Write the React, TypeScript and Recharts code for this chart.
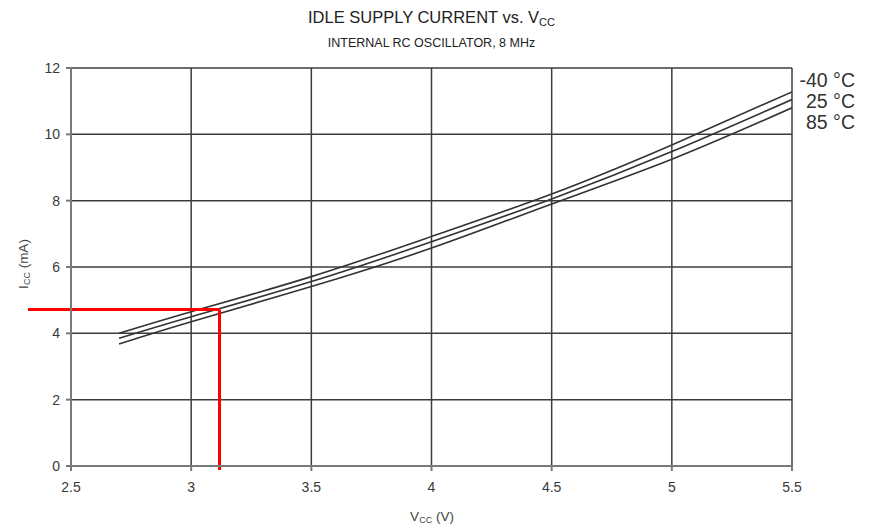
import { LineChart, Line, XAxis, YAxis, CartesianGrid, ReferenceLine } from 'recharts'

// supply voltage (V)
const vcc = [2.7, 3, 3.5, 4, 4.5, 5, 5.5]
// Icc (mA) per temperature
const tMinus40 = [4.0, 4.65, 5.71, 6.92, 8.2, 9.68, 11.28]
const t25 = [3.85, 4.5, 5.56, 6.76, 8.05, 9.48, 11.05]
const t85 = [3.68, 4.35, 5.41, 6.57, 7.9, 9.25, 10.8]

const xTicks = [2.5, 3, 3.5, 4, 4.5, 5, 5.5]
const yTicks = [0, 2, 4, 6, 8, 10, 12]
const tempLabels = ['-40 °C', '25 °C', '85 °C']

// red marker: operating point
const markX = 3.118
const markY = 4.72

const data = vcc.map((v, i) => ({
  vcc: v,
  m40: tMinus40[i],
  p25: t25[i],
  p85: t85[i],
}))

const font = '"Liberation Sans", Arial, sans-serif'
const tick = { fill: '#3a3a3a', fontSize: 14, fontFamily: font }

export default function App() {
  return (
    <div style={{ position: 'absolute', left: 0, top: 0, width: 871, height: 527, background: '#fff', fontFamily: font }}>
      <div style={{ position: 'absolute', left: 0, width: 863, top: 8, textAlign: 'center', fontSize: 16.5, color: '#222' }}>
        IDLE SUPPLY CURRENT vs. V<sub style={{ fontSize: 11, verticalAlign: -3 }}>CC</sub>
      </div>
      <div style={{ position: 'absolute', left: 0, width: 863, top: 36, textAlign: 'center', fontSize: 12.5, color: '#222' }}>
        INTERNAL RC OSCILLATOR, 8 MHz
      </div>

      <LineChart width={871} height={527} data={data} margin={{ top: 68, right: 79, bottom: 0, left: 0 }}>
        <CartesianGrid stroke="#3c3c3c" strokeWidth={1.5} horizontalValues={yTicks} verticalValues={xTicks} />
        <XAxis
          dataKey="vcc"
          type="number"
          domain={[2.5, 5.5]}
          ticks={xTicks}
          height={61}
          stroke="#7a7a7a"
          strokeWidth={2}
          tickSize={5}
          tick={tick}
          tickMargin={11}
          allowDataOverflow
        />
        <YAxis
          type="number"
          domain={[0, 12]}
          ticks={yTicks}
          width={71}
          stroke="#7a7a7a"
          strokeWidth={2}
          tickSize={5}
          tick={tick}
          tickMargin={6}
          allowDataOverflow
        />
        <Line dataKey="m40" type="natural" stroke="#333" strokeWidth={1.6} dot={false} isAnimationActive={false} />
        <Line dataKey="p25" type="natural" stroke="#333" strokeWidth={1.6} dot={false} isAnimationActive={false} />
        <Line dataKey="p85" type="natural" stroke="#333" strokeWidth={1.6} dot={false} isAnimationActive={false} />
        <ReferenceLine
          segment={[{ x: 2.321, y: markY }, { x: markX, y: markY }]}
          stroke="#ff0000"
          strokeWidth={3}
          ifOverflow="visible"
        />
        <ReferenceLine
          segment={[{ x: markX, y: markY }, { x: markX, y: -0.12 }]}
          stroke="#ff0000"
          strokeWidth={3}
          ifOverflow="visible"
        />
      </LineChart>

      {tempLabels.map((t, i) => (
        <div
          key={t}
          style={{ position: 'absolute', right: 16, top: 70 + i * 21, fontSize: 19.5, color: '#333', lineHeight: '20px' }}
        >
          {t}
        </div>
      ))}

      <div
        style={{
          position: 'absolute',
          left: 24,
          top: 264,
          transform: 'translate(-50%, -50%) rotate(-90deg)',
          fontSize: 13.5,
          color: '#444',
          whiteSpace: 'nowrap',
        }}
      >
        I<sub style={{ fontSize: 9, verticalAlign: -2 }}>CC</sub> (mA)
      </div>
      <div
        style={{
          position: 'absolute',
          left: 432,
          top: 517,
          transform: 'translate(-50%, -50%)',
          fontSize: 13.5,
          color: '#444',
          whiteSpace: 'nowrap',
        }}
      >
        V<sub style={{ fontSize: 9, verticalAlign: -2 }}>CC</sub> (V)
      </div>
    </div>
  )
}
